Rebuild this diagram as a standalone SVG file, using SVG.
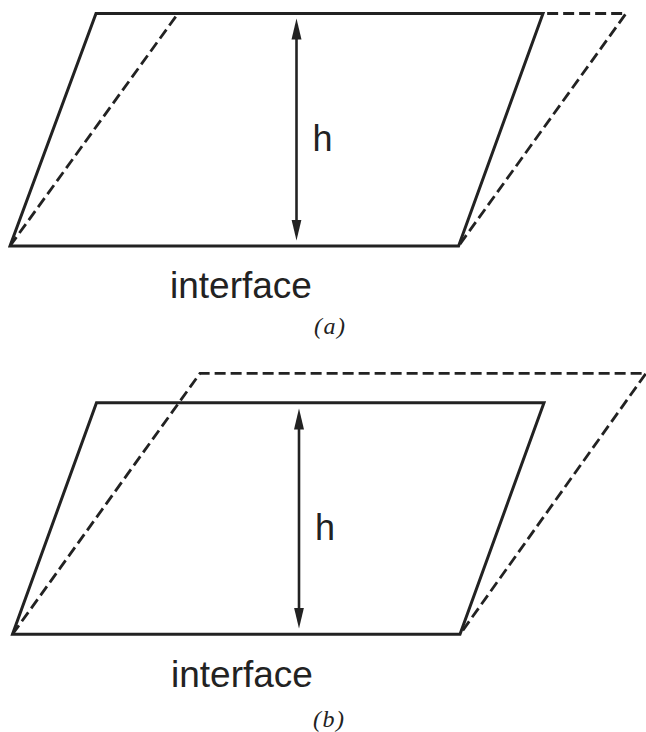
<svg xmlns="http://www.w3.org/2000/svg" width="646" height="732" viewBox="0 0 646 732">
<style>
.solid{fill:none;stroke:#222;stroke-width:3;stroke-linejoin:miter}
.dash{fill:none;stroke:#222;stroke-width:2.8;stroke-dasharray:11 5;stroke-linejoin:miter}
.arrow{fill:none;stroke:#222;stroke-width:2.6;marker-start:url(#ah);marker-end:url(#ah)}
.lbl{font-family:"Liberation Sans",Arial,sans-serif;fill:#222}
.cap{font-family:"Liberation Serif","Times New Roman",serif;font-style:italic;fill:#222}
</style>
<defs>
<marker id="ah" markerUnits="userSpaceOnUse" markerWidth="22" markerHeight="12" refX="0.5" refY="5.5" orient="auto-start-reverse">
<path d="M0,0.5 L21,5.5 L0,10.5 Z" fill="#222"/>
</marker>
</defs>
<rect width="646" height="732" fill="#fff"/>
<g id="panel-a">
<g id="a-sheared">
<polyline class="dash" points="10,246 178,13.5 626,13.5 458.6,246"/>
</g>
<g id="a-block">
<polygon class="solid" points="96,13.5 543,13.5 458.6,246 10,246"/>
</g>
<g id="a-connectors">
<line class="arrow" x1="296.5" y1="220" x2="296.5" y2="39"/>
</g>
<text class="lbl" x="312.5" y="150.5" font-size="36">h</text>
<text class="lbl" x="170" y="298" font-size="37">interface</text>
<text class="cap" x="314" y="334" font-size="24" letter-spacing="1.5">(a)</text>
</g>
<g id="panel-b">
<g id="b-sheared">
<polyline class="dash" points="12.5,634.3 200,373.3 646,373.3 460,634.3"/>
</g>
<g id="b-block">
<polygon class="solid" points="96.5,402.7 544,402.7 460,634.3 12.5,634.3"/>
</g>
<g id="b-connectors">
<line class="arrow" x1="299" y1="608" x2="299" y2="429"/>
</g>
<text class="lbl" x="315" y="540" font-size="36">h</text>
<text class="lbl" x="171" y="686.7" font-size="37">interface</text>
<text class="cap" x="313" y="727" font-size="24" letter-spacing="1.5">(b)</text>
</g>
</svg>
